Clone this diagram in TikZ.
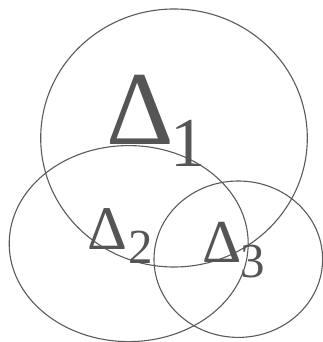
\documentclass[tikz,border=0pt]{standalone}
\usepackage{fontspec}
\setmainfont{Liberation Serif}
\definecolor{inkgray}{HTML}{555555}
\definecolor{linegray}{HTML}{5A5A5A}
\tikzset{
  ring/.style={draw=linegray, line width=1.1pt},
  lbl/.style={inner sep=0pt, outer sep=0pt, anchor=base west, text=inkgray},
}
\begin{document}
\begin{tikzpicture}[x=1pt,y=1pt]
\useasboundingbox (0,0) rectangle (323,342);
\coordinate (c1) at (174,204);
\coordinate (c2) at (128.7,98.4);
\coordinate (c3) at (238.3,82.8);
\draw[ring] (c1) ellipse [x radius=133.3, y radius=129];
\draw[ring] (c2) ellipse [x radius=119.5, y radius=98];
\draw[ring] (c3) ellipse [x radius=84.3, y radius=78.2];
\node[lbl] (d1) at (106.5,197) {\fontsize{105}{105}\selectfont Δ\hspace{-4pt}\raisebox{-22pt}{\fontsize{70}{70}\selectfont 1}};
\node[lbl] (d2) at (87.7,92) {\fontsize{62}{62}\selectfont Δ\hspace{1pt}\raisebox{-14pt}{\fontsize{49}{49}\selectfont 2}};
\node[lbl] (d3) at (202,79) {\fontsize{61}{61}\selectfont Δ\hspace{-1pt}\raisebox{-15pt}{\fontsize{49}{49}\selectfont 3}};
\end{tikzpicture}
\end{document}
